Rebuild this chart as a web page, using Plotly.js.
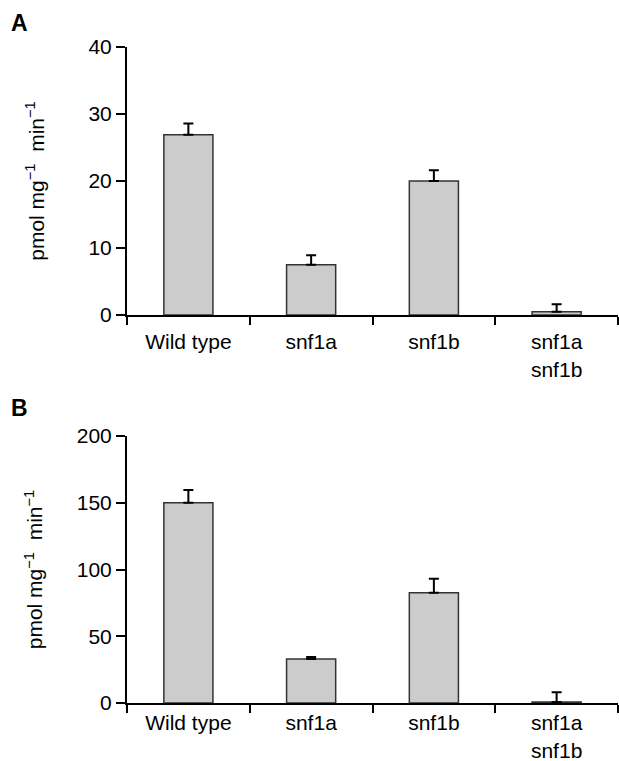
<!DOCTYPE html>
<html>
<head>
<meta charset="utf-8">
<script src="https://cdn.plot.ly/plotly-3.0.1.min.js"></script>
<style>
  html, body { margin: 0; padding: 0; background: #fff; }
  #chart { width: 619px; height: 761px; }
</style>
</head>
<body>
<div id="chart"></div>
<script>
// Categories (x axis labels)
const categories = ['Wild type', 'snf1a', 'snf1b', 'snf1a<br>snf1b'];

// Panel A values and upper error bars (pmol mg-1 min-1)
const valuesA = [26.9, 7.5, 20.0, 0.5];
const errorsA = [1.7, 1.4, 1.6, 1.1];

// Panel B values and upper error bars (pmol mg-1 min-1)
const valuesB = [150, 33, 82.5, 0.8];
const errorsB = [9.5, 1.5, 10.5, 7.2];

// Y tick values
const ticksA = [0, 10, 20, 30, 40];
const ticksB = [0, 50, 100, 150, 200];

const FONT = 'Liberation Sans, Arial, Helvetica, sans-serif';
const H = 761;
const PW = 619 - 127 - 1;

function barTrace(vals, errs, xa, ya) {
  return {
    type: 'bar',
    x: categories,
    y: vals,
    xaxis: xa,
    yaxis: ya,
    width: 0.4,
    marker: { color: '#cccccc', line: { color: '#333333', width: 1.5 } },
    error_y: {
      type: 'data',
      symmetric: false,
      array: errs,
      arrayminus: errs.map(() => 0),
      color: '#000000',
      thickness: 2,
      width: 5
    },
    hoverinfo: 'skip',
    showlegend: false
  };
}

function yTitle(standoff) {
  return { text: 'pmol mg<sup>\u22121</sup>  min<sup>\u22121</sup>', font: { family: FONT, size: 21, color: '#000' }, standoff: standoff };
}

function xAxis(anchor, standoff) {
  return {
    type: 'category',
    anchor: anchor,
    domain: [0, 1],
    range: [-0.5, 3.5],
    showline: true, linecolor: '#000', linewidth: 2,
    ticks: 'outside', tickson: 'boundaries', ticklen: 8, tickwidth: 2, tickcolor: '#000',
    ticklabelstandoff: standoff,
    showgrid: false, zeroline: false,
    tickfont: { family: FONT, size: 21, color: '#000' },
    automargin: false
  };
}

function yAxis(anchor, range, ticks, dom, titleStandoff) {
  return {
    anchor: anchor,
    domain: dom,
    range: range,
    tickmode: 'array', tickvals: ticks,
    showline: true, linecolor: '#000', linewidth: 2,
    ticks: 'outside', ticklen: 9, tickwidth: 2, tickcolor: '#000',
    showgrid: false, zeroline: false,
    tickfont: { family: FONT, size: 21, color: '#000' },
    title: yTitle(titleStandoff),
    automargin: false
  };
}

const data = [
  barTrace(valuesA, errorsA, 'x', 'y'),
  barTrace(valuesB, errorsB, 'x2', 'y2')
];

const layout = {
  width: 619, height: 761,
  margin: { l: 127, r: 1, t: 0, b: 0 },
  paper_bgcolor: '#fff', plot_bgcolor: '#fff',
  font: { family: FONT, color: '#000' },
  xaxis: xAxis('y', 7),
  yaxis: yAxis('x', [0, 40], ticksA, [(H - 315) / H, (H - 47) / H], 38),
  xaxis2: xAxis('y2', 0),
  yaxis2: yAxis('x2', [0, 200], ticksB, [(H - 703) / H, (H - 436) / H], 28),
  annotations: [
    { text: '<b>A</b>', xref: 'paper', yref: 'paper', x: (9 - 127) / PW, y: 1 - 8 / H, xanchor: 'left', yanchor: 'top', showarrow: false, font: { family: FONT, size: 23, color: '#000' } },
    { text: '<b>B</b>', xref: 'paper', yref: 'paper', x: (9 - 127) / PW, y: 1 - 393 / H, xanchor: 'left', yanchor: 'top', showarrow: false, font: { family: FONT, size: 23, color: '#000' } }
  ]
};

Plotly.newPlot('chart', data, layout, { displayModeBar: false, staticPlot: true });
</script>
</body>
</html>
